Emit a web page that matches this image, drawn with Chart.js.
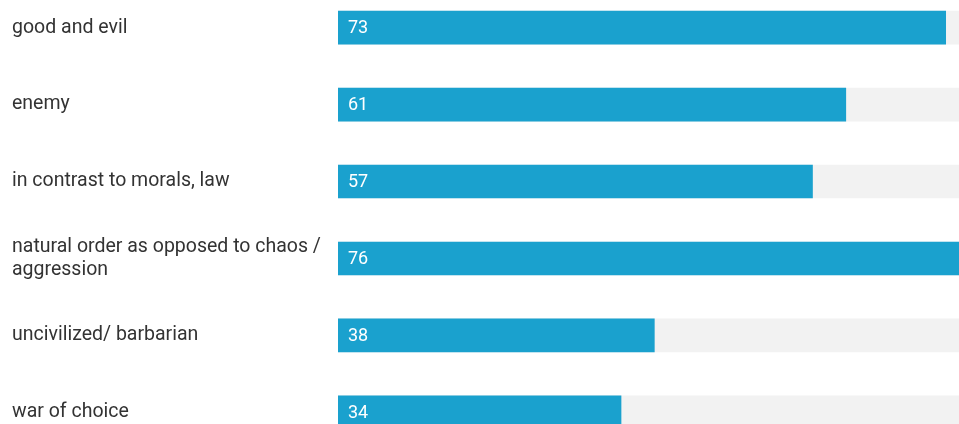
<!DOCTYPE html>
<html>
<head>
<meta charset="utf-8">
<script src="https://cdn.jsdelivr.net/npm/chart.js@4"></script>
<style>
  html, body { margin: 0; padding: 0; background: #fff; overflow: hidden; }
  #wrap { position: absolute; left: 0; top: -25px; width: 959px; height: 490px; }
</style>
</head>
<body>
<div id="wrap"><canvas id="barChart"></canvas></div>
<script>
const labels = [
  'good and evil',
  'enemy',
  'in contrast to morals, law',
  ['natural order as opposed to chaos /', 'aggression'],
  'uncivilized/ barbarian',
  'war of choice'
];
const values = [73, 61, 57, 76, 38, 34];
// the picture is cropped on the right, visible scale ends around 74.6
const scaleMax = 74.6;
const track = labels.map(() => scaleMax);

const valueLabels = {
  id: 'valueLabels',
  afterDatasetsDraw(chart) {
    const ctx = chart.ctx;
    const meta = chart.getDatasetMeta(0);
    ctx.save();
    ctx.font = '18px Roboto';
    ctx.fillStyle = '#ffffff';
    ctx.textBaseline = 'middle';
    ctx.textAlign = 'left';
    meta.data.forEach((bar, i) => {
      ctx.fillText(values[i], bar.base + 10, bar.y + 1);
    });
    ctx.restore();
  }
};

new Chart(document.getElementById('barChart').getContext('2d'), {
  type: 'bar',
  data: {
    labels: labels,
    datasets: [{
      data: values,
      backgroundColor: '#1aa1ce',
      barThickness: 33,
      order: 1
    }, {
      data: track,
      backgroundColor: '#f2f2f2',
      barThickness: 33,
      order: 2
    }]
  },
  options: {
    indexAxis: 'y',
    responsive: true,
    maintainAspectRatio: false,
    animation: false,
    layout: { padding: { left: 12, right: 0, top: 0, bottom: 0 } },
    plugins: { legend: { display: false }, tooltip: { enabled: false } },
    datasets: { bar: { grouped: false } },
    scales: {
      x: { display: false, min: 0, max: scaleMax },
      y: {
        grid: { display: false, drawTicks: false },
        border: { display: false },
        afterFit(axis) { axis.width = 326; },
        ticks: {
          crossAlign: 'far',
          color: '#333333',
          font: { family: 'Roboto', size: 19.5, lineHeight: 1.15 }
        }
      }
    }
  },
  plugins: [valueLabels]
});
</script>
</body>
</html>
